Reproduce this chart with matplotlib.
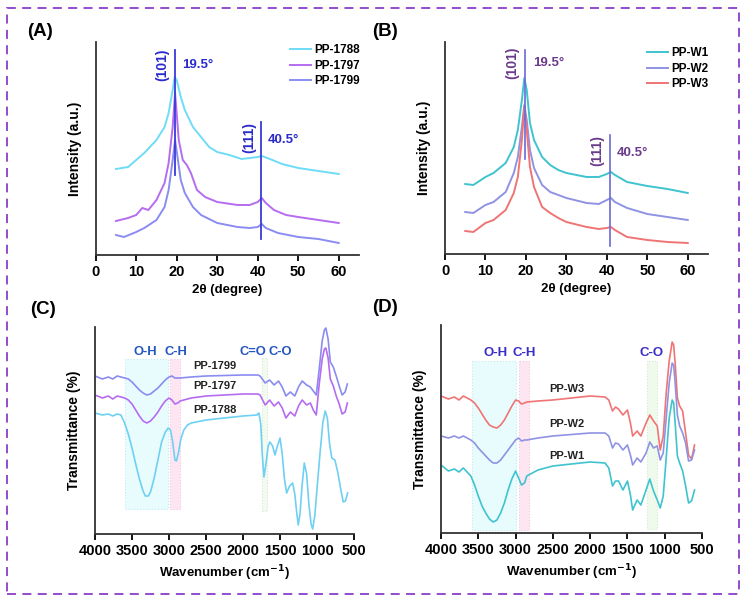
import matplotlib
matplotlib.use("Agg")
import matplotlib.pyplot as plt
from matplotlib.patches import Rectangle

plt.rcParams['font.family'] = ['Liberation Sans', 'DejaVu Sans']
plt.rcParams['font.weight'] = 'bold'

# ---------------- XRD data (2theta, intensity a.u.) ----------------
xrd_a_names = ['PP-1788', 'PP-1797', 'PP-1799']
xrd_a_colors = ['#6fdcf6', '#b56cf0', '#8a8cf2']
x_1788 = [5, 8, 10, 12, 15, 17, 18, 19, 19.5, 20, 21, 22, 24, 26, 28, 30, 33, 36, 38, 40, 41, 43, 46, 50, 55, 60]
y_1788 = [86, 88, 95, 102, 115, 128, 142, 165, 178, 175, 158, 145, 128, 118, 108, 103, 100, 96, 97, 98, 99, 96, 91, 87, 84, 81]
x_1797 = [5, 8, 10, 11.5, 13, 15, 17, 18, 19, 19.6, 20.5, 21.5, 22.5, 23.5, 25, 27, 30, 35, 38, 40, 41, 42, 44, 47, 50, 55, 60]
y_1797 = [34, 37, 40, 47, 45, 55, 72, 92, 128, 162, 115, 95, 90, 82, 65, 58, 53, 50, 50, 53, 57, 52, 45, 40, 38, 35, 32]
x_1799 = [5, 7, 10, 12, 15, 17, 18, 19, 19.6, 20.2, 21, 22, 24, 26, 30, 35, 38, 40, 41, 42, 45, 50, 55, 60]
y_1799 = [20, 18, 23, 27, 35, 48, 65, 95, 115, 98, 75, 62, 48, 40, 32, 28, 27, 28, 31, 27, 22, 18, 16, 12]

xrd_b_names = ['PP-W1', 'PP-W2', 'PP-W3']
xrd_b_colors = ['#3fc3cf', '#8f93e2', '#f07474']
x_w = [5, 7, 10, 12, 15, 17, 18, 19, 19.6, 20.2, 21, 22, 24, 26, 28, 30, 35, 38, 40, 41, 42, 45, 50, 55, 60]
y_w1 = [70, 69, 77, 81, 91, 107, 124, 154, 176, 164, 131, 114, 97, 89, 84, 81, 77, 77, 80, 82, 79, 72, 68, 65, 61]
y_w2 = [42, 41, 49, 52, 62, 81, 97, 127, 149, 134, 104, 86, 69, 62, 59, 56, 51, 50, 54, 56, 52, 46, 40, 37, 34]
y_w3 = [23, 22, 31, 34, 44, 61, 77, 114, 147, 124, 87, 67, 47, 41, 36, 32, 27, 25, 26, 27, 24, 17, 14, 12, 11]

# ---------------- FTIR data (wavenumber, transmittance a.u.) ----------------
ftir_c_x = [4000, 3900, 3820, 3760, 3700, 3650,
            3600, 3550, 3500, 3450, 3400, 3350, 3300, 3250, 3200, 3150, 3100, 3050, 3000,
            2960, 2920, 2880, 2850, 2700, 2500, 2000, 1800, 1770,
            1700, 1640, 1580, 1520, 1470, 1420, 1360, 1300, 1250, 1200, 1140, 1090,
            1050, 1010, 970, 930, 900, 880, 850, 820, 780, 740, 700, 660, 620, 590]
y_1799_ir = [158, 155, 157, 155, 158, 157,
             156, 155, 152, 148, 144, 141, 139, 140, 143, 146, 150, 154, 157,
             158, 156, 156, 156, 157, 158, 159, 159, 158,
             151, 154, 149, 153, 147, 138, 142, 138, 147, 153, 149, 147,
             143, 139, 165, 193, 204, 206, 195, 172, 167, 158, 148, 139, 142, 150]
y_1797_ir = [139, 136, 138, 135, 138, 137,
             136, 134, 130, 124, 118, 113, 111, 113, 117, 122, 128, 133, 136,
             134, 130, 131, 133, 136, 138, 140, 140, 139,
             129, 134, 128, 132, 126, 116, 122, 118, 128, 134, 129, 131,
             124, 119, 150, 175, 185, 186, 176, 155, 148, 138, 130, 120, 122, 131]
x_1788_ir = [4000, 3900, 3820, 3760, 3700, 3650, 3600, 3550, 3500, 3450,
             3400, 3350, 3320, 3280, 3250, 3200, 3150, 3100, 3050, 3010,
             2980, 2950, 2920, 2900, 2870, 2840, 2800, 2750, 2700, 2500,
             2000, 1810, 1800, 1785, 1760, 1740, 1717, 1690, 1660, 1636,
             1600, 1568, 1535, 1500, 1470, 1440, 1410, 1370, 1329, 1300,
             1275, 1253, 1230, 1200, 1172, 1140, 1110, 1080, 1059, 1030,
             1000, 960, 920, 889, 860, 830, 800, 758, 720, 680,
             645, 615, 586]
y_1788_ir = [121, 119, 120, 118, 120, 119, 111, 100, 86, 70,
             55, 43, 38, 38, 42, 56, 74, 92, 102, 106,
             104, 92, 74, 73, 82, 95, 104, 109, 111, 114,
             118, 119, 120, 121, 110, 80, 57, 70, 88, 92,
             88, 79, 88, 96, 80, 55, 41, 48, 51, 40,
             22, 9, 20, 50, 71, 60, 30, 10, 5, 18,
             45, 80, 112, 123, 116, 90, 76, 74, 62, 45,
             32, 33, 41]

ftir_d_x = [4000, 3900, 3820, 3760, 3700, 3600, 3550, 3500, 3450, 3400,
            3350, 3300, 3250, 3200, 3150, 3100, 3050, 3000, 2960, 2920,
            2880, 2850, 2700, 2500, 2000, 1800, 1750, 1700, 1660, 1620,
            1560, 1500, 1460, 1430, 1370, 1320, 1250, 1200, 1150, 1100,
            1060, 1020, 980, 940, 900, 880, 860, 830, 800, 760,
            720, 680, 640, 600]
y_w3_ir = [137, 134, 136, 133, 137, 133, 130, 125, 119, 113,
           108, 106, 105, 108, 113, 120, 127, 133, 132, 129,
           130, 131, 132, 133, 137, 136, 133, 122, 126, 124,
           118, 123, 110, 97, 102, 97, 110, 118, 112, 107,
           83, 97, 140, 172, 191, 188, 170, 135, 127, 122,
           100, 78, 74, 88]
y_w2_ir = [97, 95, 97, 95, 97, 93, 90, 85, 81, 77,
           73, 70, 70, 73, 78, 83, 88, 93, 95, 92,
           93, 93, 95, 97, 100, 100, 97, 85, 90, 89,
           83, 88, 78, 68, 75, 71, 80, 91, 85, 87,
           73, 80, 115, 150, 170, 168, 150, 118, 107, 100,
           90, 72, 73, 83]
y_w1_ir = [68, 62, 64, 61, 65, 57, 48, 37, 27, 20,
           14, 11, 13, 20, 30, 43, 54, 62, 55, 48,
           50, 57, 63, 67, 71, 70, 65, 47, 52, 52,
           43, 52, 38, 23, 33, 28, 43, 54, 42, 33,
           25, 37, 75, 115, 133, 130, 110, 77, 70, 62,
           47, 30, 32, 43]

fig = plt.figure(figsize=(7.47, 6.03), dpi=100)

# dashed purple frame
fig.patches.append(Rectangle((7 / 747, 1 - 594 / 603), 732 / 747, 586 / 603, transform=fig.transFigure,
                             fill=False, edgecolor='#8a3fc8', lw=1.3, linestyle=(0, (5, 3.5))))

XLAB = 9.5
YLAB = 10
TICK = 10.5


def style_axes(ax):
    for s in ['top', 'right']:
        ax.spines[s].set_visible(False)
    for s in ['left', 'bottom']:
        ax.spines[s].set_linewidth(1.3)
        ax.spines[s].set_color('#333333')
    ax.set_yticks([])
    ax.tick_params(axis='x', direction='out', length=4, width=1.3, labelsize=TICK, pad=3)
    for lab in ax.get_xticklabels():
        lab.set_fontweight('bold')


def xrd_legend(ax, x0, y0):
    ax.legend(loc='upper left', bbox_to_anchor=(x0, y0), frameon=False, borderpad=0, borderaxespad=0,
              handlelength=1.75, handletextpad=0.3, labelspacing=0.3, prop={'weight': 'bold', 'size': 8.5})


# ---------------- (A) ----------------
axA = fig.add_axes([95.7 / 747, 1 - 255 / 603, 263.3 / 747, 213 / 603])
for xs, ys, c, n in zip([x_1788, x_1797, x_1799], [y_1788, y_1797, y_1799], xrd_a_colors, xrd_a_names):
    axA.plot(xs, ys, color=c, lw=1.4, label=n)
axA.plot([19.5, 19.5], [80, 205], color='#3a3ad8', lw=1.3)
axA.plot([40.8, 40.8], [16, 133], color='#3a3ad8', lw=1.3)
axA.text(16.4, 190, '(101)', rotation=90, color='#2a2acc', fontsize=10, fontweight='bold', ha='center', va='center')
axA.text(21.3, 190, '19.5°', color='#2a2acc', fontsize=9.5, fontweight='bold', ha='left', va='center')
axA.text(37.8, 117, '(111)', rotation=90, color='#2a2acc', fontsize=10, fontweight='bold', ha='center', va='center')
axA.text(42.4, 115, '40.5°', color='#2a2acc', fontsize=9.5, fontweight='bold', ha='left', va='center')
axA.set_xlim(0, 65)
axA.set_ylim(0, 213)
axA.set_xticks([0, 10, 20, 30, 40, 50, 60])
axA.set_xlabel('2θ (degree)', fontsize=XLAB, fontweight='bold', labelpad=4)
axA.set_ylabel('Intensity (a.u.)', fontsize=YLAB, fontweight='bold', labelpad=10)
style_axes(axA)
xrd_legend(axA, 0.738, 0.99)

# ---------------- (B) ----------------
axB = fig.add_axes([445 / 747, 1 - 254 / 603, 263 / 747, 212 / 603])
for ys, c, n in zip([y_w1, y_w2, y_w3], xrd_b_colors, xrd_b_names):
    axB.plot(x_w, ys, color=c, lw=1.4, label=n)
axB.plot([19.7, 19.7], [95, 204], color='#6a6ad8', lw=1.2)
axB.plot([40.8, 40.8], [8, 119], color='#6a6ad8', lw=1.2)
axB.text(16.5, 191, '(101)', rotation=90, color='#6a3a8c', fontsize=10, fontweight='bold', ha='center', va='center')
axB.text(21.8, 191, '19.5°', color='#6a3a8c', fontsize=9.5, fontweight='bold', ha='left', va='center')
axB.text(37.6, 104, '(111)', rotation=90, color='#6a3a8c', fontsize=10, fontweight='bold', ha='center', va='center')
axB.text(42.4, 101, '40.5°', color='#6a3a8c', fontsize=9.5, fontweight='bold', ha='left', va='center')
axB.set_xlim(0, 65)
axB.set_ylim(0, 212)
axB.set_xticks([0, 10, 20, 30, 40, 50, 60])
axB.set_xlabel('2θ (degree)', fontsize=XLAB, fontweight='bold', labelpad=4)
axB.set_ylabel('Intensity (a.u.)', fontsize=YLAB, fontweight='bold', labelpad=10)
style_axes(axB)
xrd_legend(axB, 0.768, 0.975)

# ---------------- (C) ----------------
axC = fig.add_axes([95 / 747, 1 - 534 / 603, 259 / 747, 207 / 603])
axC.fill_between([3600, 3020], 25, 175, color='#e8fcfd', edgecolor='#bfeaf0', linestyle=':', lw=0.8)
axC.fill_between([2980, 2850], 25, 175, color='#fde6f2', edgecolor='#f4c6de', linestyle=':', lw=0.8)
axC.fill_between([1738, 1682], 23, 176, color='#f3fbf1', edgecolor='#d3e9cf', linestyle=':', lw=0.8)
axC.plot(ftir_c_x, y_1799_ir, color='#8a8cf2', lw=1.2)
axC.plot(ftir_c_x, y_1797_ir, color='#b56cf0', lw=1.2)
axC.plot(x_1788_ir, y_1788_ir, color='#6fd0f4', lw=1.2)
for lab, xx in [('O-H', 3325), ('C-H', 2905), ('C=O', 1870), ('C-O', 1500)]:
    axC.text(xx, 182, lab, color='#2456c0', fontsize=9.3, fontweight='bold', ha='center', va='center')
for lab, yy in [('PP-1799', 168), ('PP-1797', 148), ('PP-1788', 124)]:
    axC.text(2380, yy, lab, color='#222222', fontsize=8, fontweight='bold', ha='center', va='center')
axC.set_xlim(4000, 500)
axC.set_ylim(0, 207)
axC.set_xticks([4000, 3500, 3000, 2500, 2000, 1500, 1000, 500])
axC.set_xlabel('Wavenumber (cm$^{\\mathbf{-1}}$)', fontsize=XLAB, fontweight='bold', labelpad=4)
axC.set_ylabel('Transmittance (%)', fontsize=YLAB, fontweight='bold', labelpad=10)
style_axes(axC)

# ---------------- (D) ----------------
axD = fig.add_axes([441 / 747, 1 - 533 / 603, 261 / 747, 208 / 603])
axD.fill_between([3580, 3000], 3, 172, color='#e8fcfd', edgecolor='#bfeaf0', linestyle=':', lw=0.8)
axD.fill_between([2960, 2820], 3, 172, color='#fde6f2', edgecolor='#f4c6de', linestyle=':', lw=0.8)
axD.fill_between([1240, 1100], 4, 172, color='#f0faec', edgecolor='#d3e9cf', linestyle=':', lw=0.8)
axD.plot(ftir_d_x, y_w3_ir, color='#f07474', lw=1.2)
axD.plot(ftir_d_x, y_w2_ir, color='#8f93e2', lw=1.2)
axD.plot(ftir_d_x, y_w1_ir, color='#3fc3cf', lw=1.2)
for lab, xx in [('O-H', 3275), ('C-H', 2885), ('C-O', 1170)]:
    axD.text(xx, 180, lab, color='#3a2ec8', fontsize=9.5, fontweight='bold', ha='center', va='center')
for lab, yy in [('PP-W3', 144), ('PP-W2', 109), ('PP-W1', 77)]:
    axD.text(2310, yy, lab, color='#222222', fontsize=8, fontweight='bold', ha='center', va='center')
axD.set_xlim(4000, 500)
axD.set_ylim(0, 208)
axD.set_xticks([4000, 3500, 3000, 2500, 2000, 1500, 1000, 500])
axD.set_xlabel('Wavenumber (cm$^{\\mathbf{-1}}$)', fontsize=XLAB, fontweight='bold', labelpad=4)
axD.set_ylabel('Transmittance (%)', fontsize=YLAB, fontweight='bold', labelpad=10)
style_axes(axD)

# panel letters
for lab, px, py in [('(A)', 27, 32), ('(B)', 372, 32), ('(C)', 30, 310), ('(D)', 372, 308)]:
    fig.text(px / 747, 1 - py / 603, lab, fontsize=13.5, fontweight='bold', ha='left', va='center')

fig.savefig('out.png', dpi=100)
